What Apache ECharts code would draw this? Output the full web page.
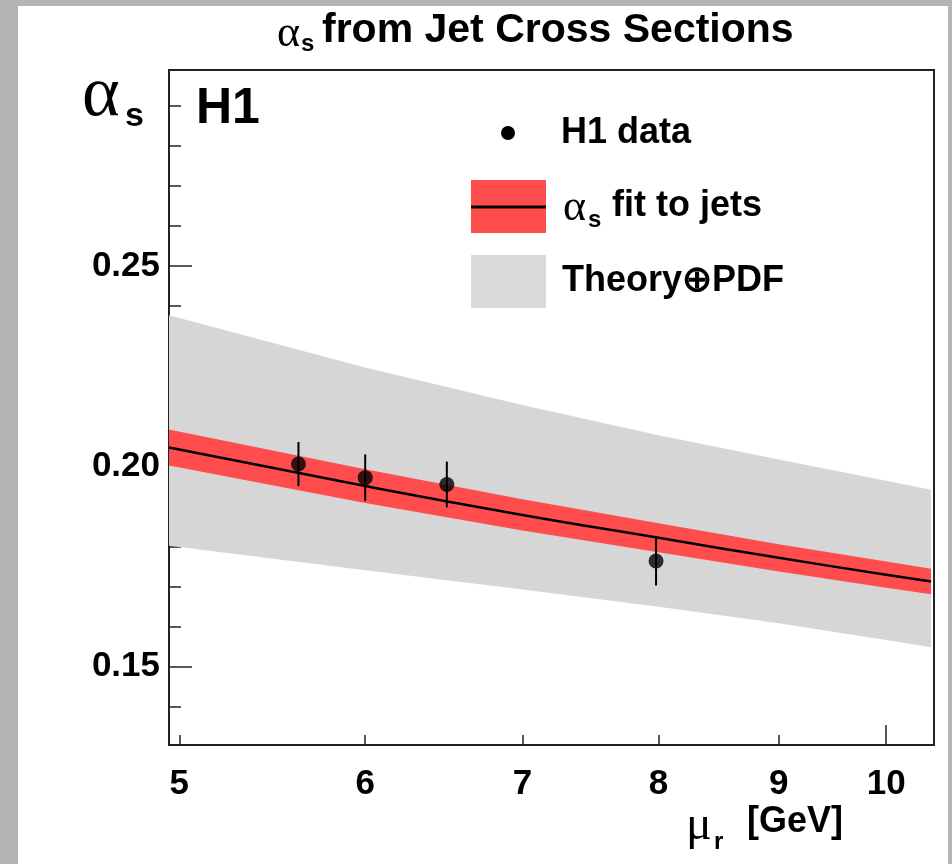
<!DOCTYPE html>
<html>
<head>
<meta charset="utf-8">
<script src="https://cdn.jsdelivr.net/npm/echarts@6/dist/echarts.min.js"></script>
<style>
  body{margin:0;background:#b3b3b3;}
  #paper{position:absolute;left:18px;top:6px;width:930px;height:858px;background:#fff;}
  #chart{position:absolute;left:0;top:0;width:952px;height:864px;}
</style>
</head>
<body>
<div id="paper"></div>
<div id="chart"></div>
<script>
var muGrid = [4.95, 6, 7, 8, 9, 10, 10.45];
// alpha_s fit to jets: central line and band edges
var fitLine = [0.2047, 0.1951, 0.1879, 0.1822, 0.1772, 0.1730, 0.1713];
var fitHi   = [0.2092, 0.1993, 0.1918, 0.1858, 0.1806, 0.1763, 0.1745];
var fitLo   = [0.2002, 0.1909, 0.1840, 0.1786, 0.1738, 0.1697, 0.1681];
// Theory (+) PDF band
var thHi = [0.2377, 0.2247, 0.2153, 0.2078, 0.2017, 0.1964, 0.1942];
var thLo = [0.1802, 0.1741, 0.1693, 0.1650, 0.1609, 0.1567, 0.1549];
// H1 data points
var dataMu    = [5.62, 6.0, 6.5, 7.98];
var dataAlpha = [0.2006, 0.1972, 0.1955, 0.1764];
var dataErr   = [0.0055, 0.0058, 0.0057, 0.0061];
// axis ticks
var xTickLabels = [5, 6, 7, 8, 9, 10];
var yTickLabels = [0.15, 0.20, 0.25];
var yMinorTicks = [0.14, 0.16, 0.17, 0.18, 0.19, 0.21, 0.22, 0.23, 0.24, 0.26, 0.27, 0.28, 0.29];

var lg = Math.log10;
var SANS = '"Liberation Sans", Arial, sans-serif';
var SERIF = '"Liberation Serif", "DejaVu Serif", serif';

function rows(hi, lo) { return muGrid.map(function (m, i) { return [lg(m), lo[i], hi[i]]; }); }

// one polygon per band: upper edge left->right, lower edge back
function bandSeries(hi, lo, color, z) {
  var data = rows(hi, lo);
  return {
    type: 'custom', z: z, silent: true, clip: true,
    data: data, encode: { x: 0, y: [1, 2] },
    renderItem: function (params, api) {
      if (params.dataIndex !== 0) return null;
      var up = data.map(function (r) { return api.coord([r[0], r[2]]); });
      var dn = data.map(function (r) { return api.coord([r[0], r[1]]); }).reverse();
      return { type: 'polygon', shape: { points: up.concat(dn) }, style: { fill: color } };
    }
  };
}

var chart = echarts.init(document.getElementById('chart'));

function txt(t, x, y, font, extra) {
  var st = { text: t, x: 0, y: 0, font: font, fill: '#000', align: 'left', verticalAlign: 'middle' };
  return { type: 'text', x: x, y: y, z: 10, style: Object.assign(st, extra || {}) };
}

chart.setOption({
  animation: false,
  grid: { left: 169, top: 70, width: 765, height: 675, show: true, borderColor: '#222', borderWidth: 2, backgroundColor: 'transparent' },
  xAxis: [{
    type: 'value', min: lg(4.95), max: lg(10.48), position: 'bottom',
    axisLine: { show: true, onZero: false, lineStyle: { color: '#222', width: 2 } },
    axisTick: { show: true, inside: true, length: 10, customValues: [5, 6, 7, 8, 9].map(lg), lineStyle: { color: '#222', width: 1.5 } },
    axisLabel: {
      customValues: xTickLabels.map(lg), margin: 22,
      formatter: function (v) { return String(Math.round(Math.pow(10, v))); },
      fontFamily: SANS, fontWeight: 'bold', fontSize: 35, color: '#000'
    },
    splitLine: { show: false }
  }, {
    type: 'value', min: lg(4.95), max: lg(10.48), position: 'bottom',
    axisLine: { show: false },
    axisTick: { show: true, inside: true, length: 20, customValues: [lg(10)], lineStyle: { color: '#222', width: 1.5 } },
    axisLabel: { show: false }, splitLine: { show: false }
  }],
  yAxis: [{
    type: 'value', min: 0.1305, max: 0.2989, position: 'left',
    axisLine: { show: true, onZero: false, lineStyle: { color: '#222', width: 2 } },
    axisTick: { show: true, inside: true, length: 23, customValues: yTickLabels, lineStyle: { color: '#222', width: 1.5 } },
    axisLabel: {
      customValues: yTickLabels, margin: 9,
      formatter: function (v) { return v.toFixed(2); },
      fontFamily: SANS, fontWeight: 'bold', fontSize: 35, color: '#000'
    },
    splitLine: { show: false }
  }, {
    type: 'value', min: 0.1305, max: 0.2989, position: 'left',
    axisLine: { show: false },
    axisTick: { show: true, inside: true, length: 12, customValues: yMinorTicks, lineStyle: { color: '#222', width: 1.5 } },
    axisLabel: { show: false }, splitLine: { show: false }
  }],
  series: [
    bandSeries(thHi, thLo, '#d6d6d6', 1),
    bandSeries(fitHi, fitLo, '#ff4d4d', 2),
    {
      type: 'line', z: 3, smooth: true, symbol: 'none', lineStyle: { color: '#000', width: 2.5 },
      data: muGrid.map(function (m, i) { return [lg(m), fitLine[i]]; })
    },
    {
      type: 'custom', z: 4,
      data: dataMu.map(function (m, i) { return [lg(m), dataAlpha[i], dataErr[i]]; }),
      encode: { x: 0, y: 1 },
      renderItem: function (params, api) {
        var x = api.value(0), y = api.value(1), e = api.value(2);
        var a = api.coord([x, y + e]), b = api.coord([x, y - e]);
        return { type: 'line', shape: { x1: a[0], y1: a[1], x2: b[0], y2: b[1] }, style: { stroke: '#000', lineWidth: 2 } };
      }
    },
    {
      type: 'scatter', z: 5, symbolSize: 15, itemStyle: { color: '#000' },
      data: dataMu.map(function (m, i) { return [lg(m), dataAlpha[i]]; })
    }
  ],
  graphic: [
    // title
    txt('α', 277, 34, '44px ' + SERIF),
    txt('s', 301, 44, 'bold 24px ' + SANS),
    txt('from Jet Cross Sections', 322, 31, 'bold 41px ' + SANS),
    // y axis title
    txt('α', 82, 96, '72px ' + SERIF),
    txt('s', 125, 117, 'bold 34px ' + SANS),
    // H1 label
    txt('H1', 196, 109, 'bold 50px ' + SANS),
    // x axis title
    txt('μ', 686, 826, '48px ' + SERIF),
    txt('r', 714, 842, 'bold 24px ' + SANS),
    txt('[GeV]', 747, 822, 'bold 36px ' + SANS),
    // legend
    { type: 'circle', z: 10, shape: { cx: 508, cy: 133, r: 7 }, style: { fill: '#000' } },
    txt('H1 data', 561, 133, 'bold 36px ' + SANS),
    { type: 'rect', z: 10, shape: { x: 471, y: 180, width: 75, height: 53 }, style: { fill: '#ff4d4d' } },
    { type: 'line', z: 11, shape: { x1: 471, y1: 207, x2: 546, y2: 207 }, style: { stroke: '#000', lineWidth: 3 } },
    txt('α', 563, 208, '44px ' + SERIF),
    txt('s', 588, 220, 'bold 24px ' + SANS),
    txt('fit to jets', 612, 206, 'bold 36px ' + SANS),
    { type: 'rect', z: 10, shape: { x: 471, y: 255, width: 75, height: 53 }, style: { fill: '#d9d9d9' } },
    txt('Theory⊕PDF', 562, 281, 'bold 36px ' + SANS)
  ]
});
</script>
</body>
</html>
